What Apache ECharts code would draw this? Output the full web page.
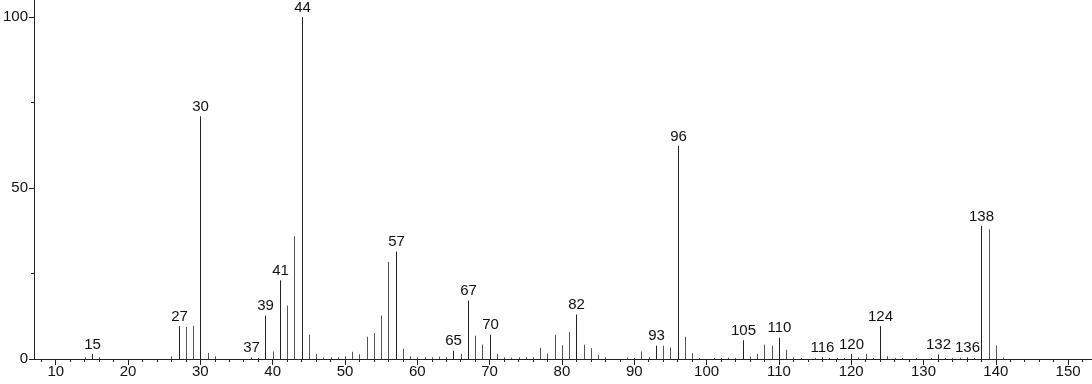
<!DOCTYPE html>
<html><head><meta charset="utf-8">
<script src="https://cdn.jsdelivr.net/npm/echarts@6/dist/echarts.min.js"></script>
<style>html,body{margin:0;padding:0;background:#fff}#c{width:1092px;height:384px}</style>
</head><body><div id="c"></div>
<script>
const mz = [14,15,16,26,27,28,29,30,31,32,37,38,39,40,41,42,43,44,45,46,47,48,49,50,51,52,53,54,55,56,57,58,59,60,61,62,63,64,65,66,67,68,69,70,71,72,73,74,75,76,77,78,79,80,81,82,83,84,85,86,89,90,91,92,93,94,95,96,97,98,99,101,102,103,104,105,106,107,108,109,110,111,112,113,115,116,117,118,119,120,121,122,123,124,125,126,127,129,131,132,133,134,135,136,137,138,139,140,141];
const intensity = [0.5,1.5,0.5,0.8,9.6,9.4,9.7,71,1.8,0.8,0.4,0.3,12.7,2.2,23,15.6,35.9,100,7.1,1.5,0.4,0.5,0.5,0.8,2.1,1.4,6.5,7.6,12.7,28.4,31.4,3.0,0.8,0.4,0.5,0.5,0.7,0.5,2.4,1.5,17.1,6.8,4.2,7.1,1.5,0.5,0.4,0.5,0.5,0.5,3.3,1.6,7.1,4.0,7.9,13.0,4.2,3.2,1.2,0.5,0.4,0.3,2.2,0.5,3.9,3.9,3.4,62.3,6.5,1.7,0.3,0.3,0.3,0.4,0.3,5.5,0.7,1.5,4.2,3.9,6.2,2.7,0.4,0.3,0.3,0.5,0.3,0.3,0.3,1.5,0.4,1.5,0.3,9.6,0.8,0.3,0.3,0.3,0.3,1.3,0.3,0.3,0.4,0.5,0.3,38.9,37.9,4.0,0.4];
const labeledPeaks = [15,27,30,37,39,41,44,57,65,67,70,82,93,96,105,110,116,120,124,132,136,138];
const xMajorTicks = [10,20,30,40,50,60,70,80,90,100,110,120,130,140,150];
const xMinorTicks = [8,12,14,16,18,22,24,26,28,32,34,36,38,42,44,46,48,52,54,56,58,62,64,66,68,72,74,76,78,82,84,86,88,92,94,96,98,102,104,106,108,112,114,116,118,122,124,126,128,132,134,136,138,142,144,146,148,152];
const yMajorTicks = [0,50,100];
const yMinorTicks = [25,75];

const data = mz.map((m,i)=>[m,intensity[i],labeledPeaks.includes(m)?1:0]);
const font = 'Liberation Sans, Arial, sans-serif';
const chart = echarts.init(document.getElementById('c'),null,{renderer:'canvas'});
const axisLineStyle = {color:'#222',width:1};
chart.setOption({
  animation:false,
  grid:{left:31,right:0,top:0,bottom:25,containLabel:false},
  xAxis:[{
    type:'value',min:7,max:153.3,
    axisLine:{show:true,onZero:false,lineStyle:axisLineStyle},
    axisTick:{show:true,length:6,customValues:xMajorTicks,lineStyle:axisLineStyle},
    axisLabel:{show:true,customValues:xMajorTicks,margin:5,color:'#111',fontSize:15,fontFamily:font},
    splitLine:{show:false}
  },{
    type:'value',min:7,max:153.3,position:'bottom',
    axisLine:{show:false},
    axisTick:{show:true,length:3,customValues:xMinorTicks,lineStyle:axisLineStyle},
    axisLabel:{show:false},
    splitLine:{show:false}
  }],
  yAxis:[{
    type:'value',min:0,max:105,
    axisLine:{show:true,onZero:false,lineStyle:axisLineStyle},
    axisTick:{show:true,length:5,customValues:yMajorTicks,lineStyle:axisLineStyle},
    axisLabel:{show:true,customValues:yMajorTicks,margin:6,color:'#111',fontSize:15,fontFamily:font},
    splitLine:{show:false}
  },{
    type:'value',min:0,max:105,position:'left',
    axisLine:{show:false},
    axisTick:{show:true,length:3,customValues:yMinorTicks,lineStyle:axisLineStyle},
    axisLabel:{show:false},
    splitLine:{show:false}
  }],
  series:[{
    type:'custom',
    xAxisIndex:0,yAxisIndex:0,
    data:data,
    renderItem:function(params,api){
      const x=api.value(0), y=api.value(1), lab=api.value(2);
      const p0=api.coord([x,0]), p1=api.coord([x,y]);
      const px=Math.round(p0[0])+0.5;
      const children=[{
        type:'line',
        shape:{x1:px,y1:p0[1],x2:px,y2:p1[1]},
        style:{stroke:lab?'#222':'#555',lineWidth:1}
      }];
      if(lab){
        children.push({
          type:'text',
          style:{text:String(x),x:px,y:p1[1]-2,align:'center',verticalAlign:'bottom',
            fill:'#111',font:'15px '+font}
        });
      }
      return {type:'group',children:children};
    }
  }]
});
</script></body></html>
